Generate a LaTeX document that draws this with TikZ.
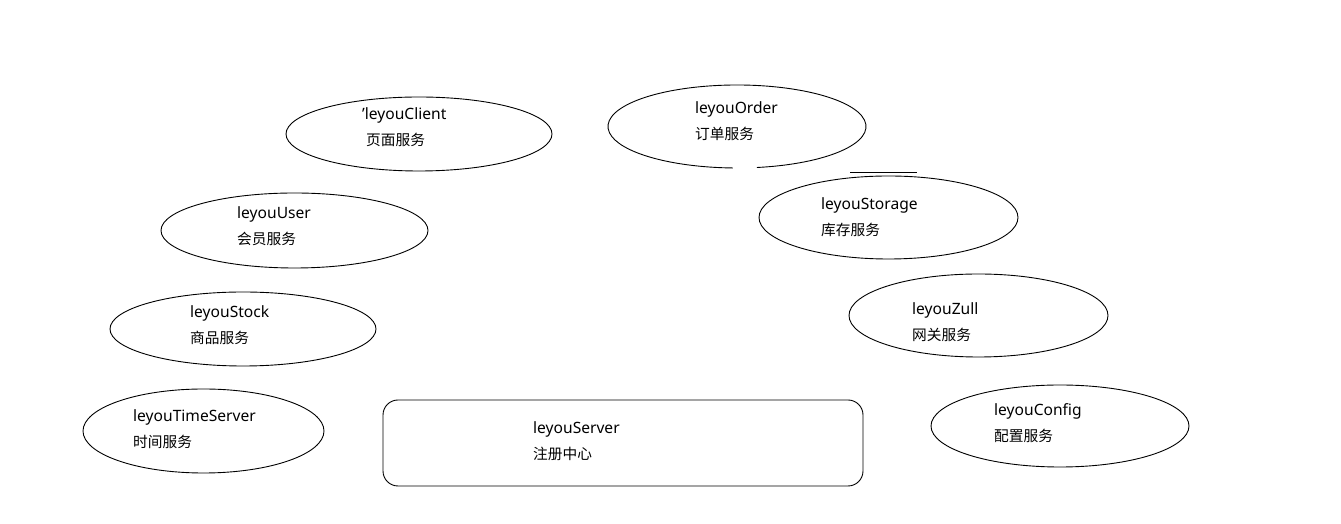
\documentclass[tikz,border=0pt]{standalone}
\usepackage{fontspec}
\setmainfont{Noto Sans}
\newfontfamily\cjk{Noto Sans CJK SC}
\usetikzlibrary{shapes.geometric}
\tikzset{
  svc/.style={draw, ellipse, line width=0.9pt, inner sep=0pt},
  lat/.style={anchor=base west, inner sep=0pt, font=\fontsize{15.6}{18}\selectfont},
  han/.style={anchor=base west, inner sep=0pt, font=\cjk\fontsize{14.7}{18}\selectfont},
}
\begin{document}
\begin{tikzpicture}[x=1pt,y=1pt]
\useasboundingbox (0,0) rectangle (1341,524);
% ellipses
\node[svc, minimum width=266pt, minimum height=74pt] (client) at (419,390) {};
\node[svc, minimum width=267pt, minimum height=75pt] (user) at (294.5,293.5) {};
\node[svc, minimum width=266pt, minimum height=74pt] (stock) at (243,195) {};
\node[svc, minimum width=241pt, minimum height=84pt] (time) at (203.5,93) {};
\node[svc, minimum width=259pt, minimum height=83pt] (storage) at (888.5,306.5) {};
\node[svc, minimum width=259pt, minimum height=83pt] (zull) at (978.5,208.5) {};
\node[svc, minimum width=258pt, minimum height=82pt] (config) at (1060,98) {};
% order ellipse with a gap at the bottom
\coordinate (order) at (737,397.5);
\draw[line width=0.9pt] ([shift={(278.9:129 and 41.5)}]order) arc[start angle=278.9, end angle=628.2, x radius=129, y radius=41.5];
% stray line above storage
\coordinate (s1) at (850,352);
\coordinate (s2) at (917,352);
\draw[line width=0.9pt] (s1) -- (s2);
% server box
\node[draw, line width=0.9pt, rounded corners=15pt, minimum width=480pt, minimum height=86pt, inner sep=0pt] (server) at (623,81) {};
% texts
\node[lat] (t1) at (362,404.5) {'leyouClient};
\node[han] (c1) at (366,378.5) {页面服务};
\node[lat] (t2) at (695,410.5) {leyouOrder};
\node[han] (c2) at (695,384.5) {订单服务};
\node[lat] (t3) at (237,305.5) {leyouUser};
\node[han] (c3) at (237,279.5) {会员服务};
\node[lat] (t4) at (821,314.5) {leyouStorage};
\node[han] (c4) at (821,288.5) {库存服务};
\node[lat] (t5) at (190,206.5) {leyouStock};
\node[han] (c5) at (190,180.5) {商品服务};
\node[lat] (t6) at (912,209.5) {leyouZull};
\node[han] (c6) at (912,183.5) {网关服务};
\node[lat] (t7) at (133,102.5) {leyouTimeServer};
\node[han] (c7) at (133,76.5) {时间服务};
\node[lat] (t8) at (994,108.5) {leyouConfig};
\node[han] (c8) at (994,82.5) {配置服务};
\node[lat] (t9) at (533,90.5) {leyouServer};
\node[han] (c9) at (533,64.5) {注册中心};
\end{tikzpicture}
\end{document}
